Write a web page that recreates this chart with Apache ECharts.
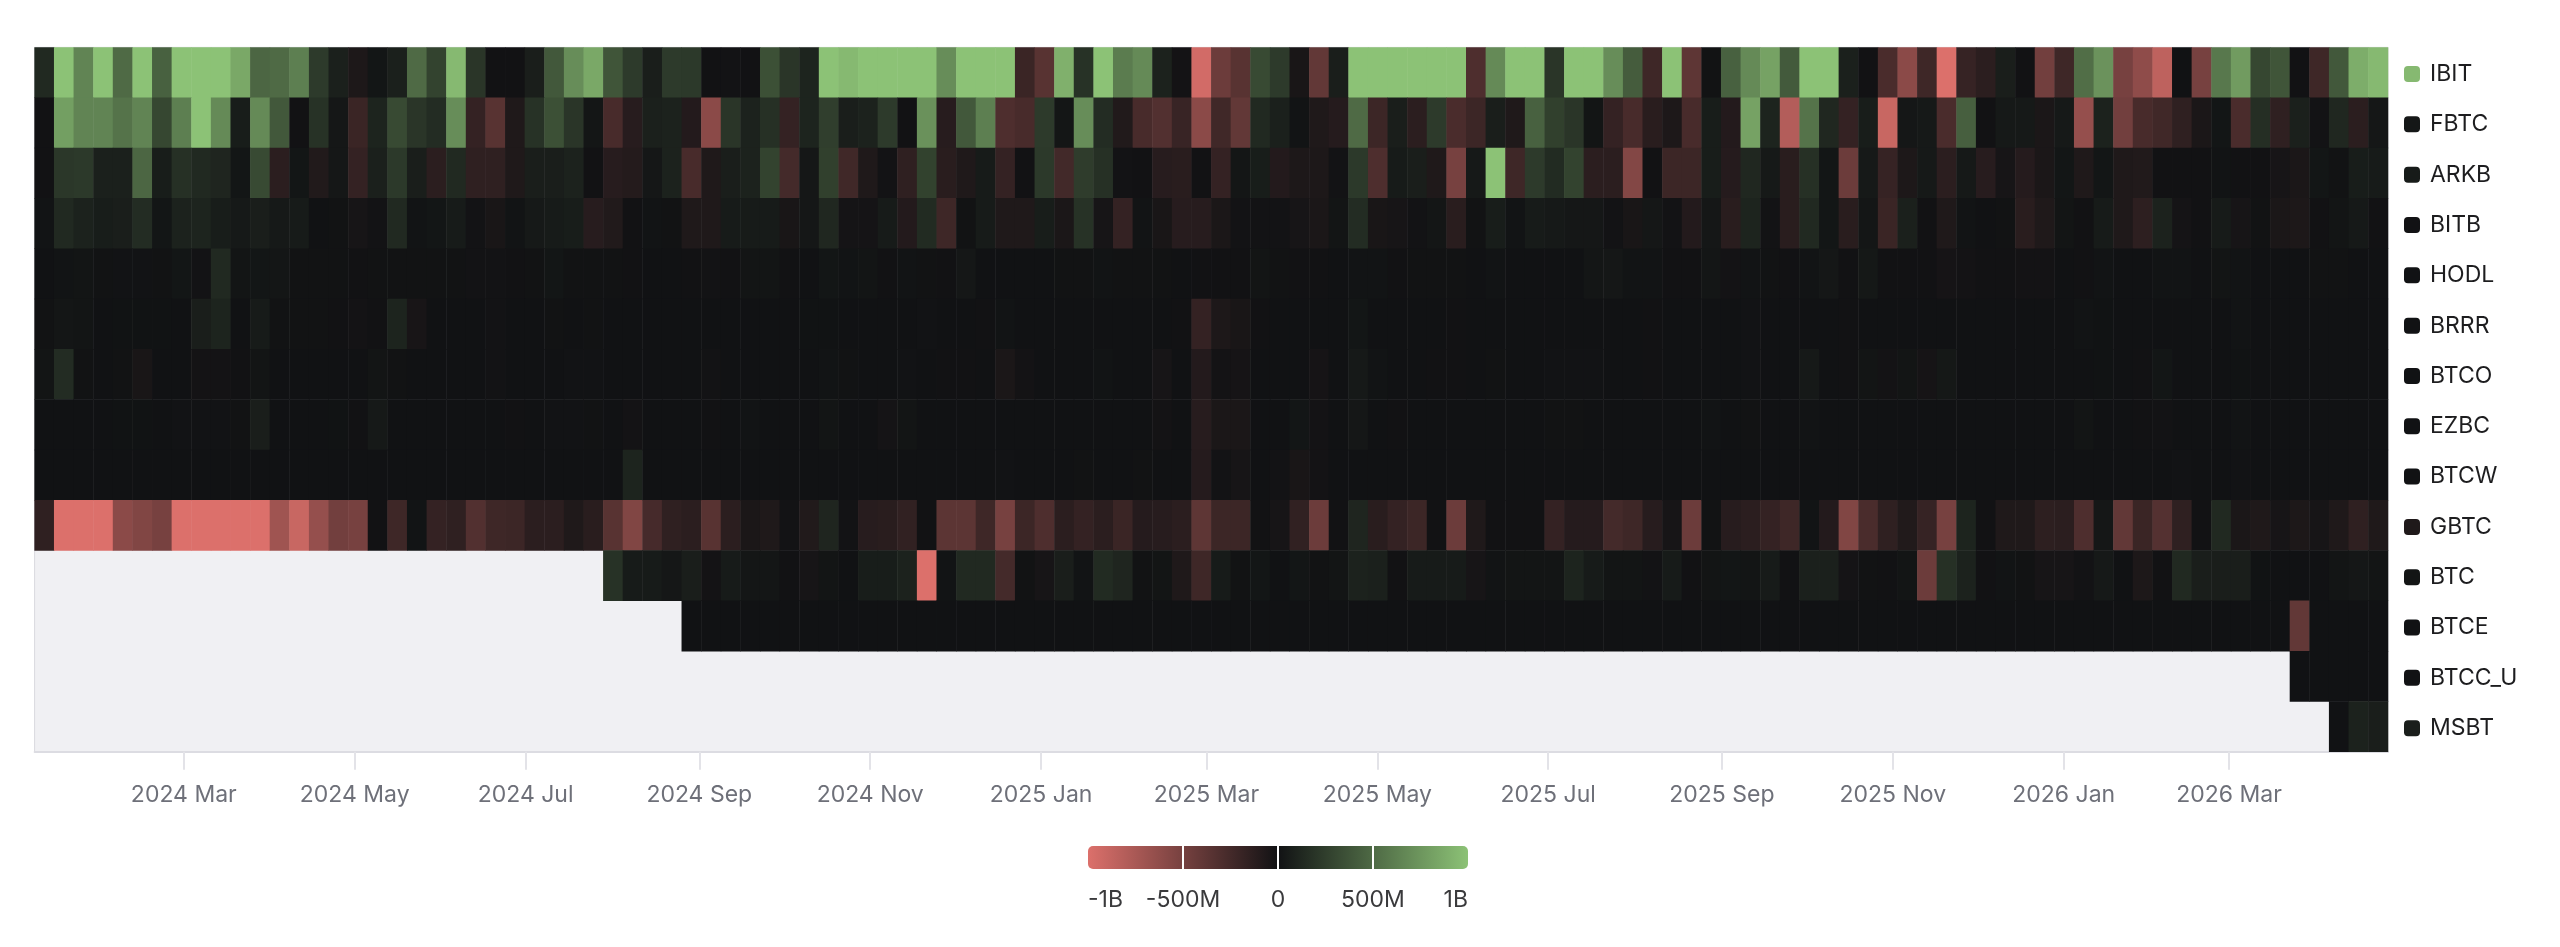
<!DOCTYPE html>
<html>
<head>
<meta charset="utf-8">
<title>Bitcoin ETF weekly flows</title>
<style>
  html, body { margin: 0; padding: 0; background: #fff; }
  #main { width: 2560px; height: 947px; }
</style>
<script src="https://cdn.jsdelivr.net/npm/echarts@6/dist/echarts.min.js"></script>
</head>
<body>
<div id="main"></div>
<script>
// weekly net flows, in millions of USD
var N = null;
var tickers = ["IBIT", "FBTC", "ARKB", "BITB", "HODL", "BRRR", "BTCO", "EZBC", "BTCW", "GBTC", "BTC", "BTCE", "BTCC_U", "MSBT"];
var tickMonths = ["2024-03-01", "2024-05-01", "2024-07-01", "2024-09-01", "2024-11-01", "2025-01-01", "2025-03-01", "2025-05-01", "2025-07-01", "2025-09-01", "2025-11-01", "2026-01-01", "2026-03-01"];
var legendTicks = ["-1B", "-500M", "0", "500M", "1B"];

var IBIT = [
  130, 1000, 650, 1000, 500, 1000, 450, 1000, 1000, 1000,
  850, 480, 500, 620, 230, 80, -60, 20, 80, 500,
  280, 950, 200, -5, -5, 70, 400, 700, 850, 380,
  230, 70, 230, 220, -5, -10, -5, 350, 200, 100,
  1000, 950, 1000, 1000, 1000, 1000, 700, 1000, 1000, 1000,
  -200, -350, 900, 180, 1000, 600, 680, 90, -15, -950,
  -450, -350, 320, 230, -40, -400, 70, 1000, 1000, 1000,
  1000, 1000, 1000, -300, 680, 1000, 1000, 200, 1000, 1000,
  700, 420, -220, 1000, -380, 5, 450, 680, 820, 410,
  1000, 1000, 80, -5, -280, -600, -220, -1000, -180, -130,
  70, -5, -480, -220, 520, 730, -500, -620, -850, 0,
  -500, 580, 780, 300, 380, -5, -220, 400, 880, 950
];
var FBTC = [
  -5, 800, 650, 650, 550, 650, 300, 620, 1000, 680,
  60, 680, 400, -5, 180, 30, -200, 100, 320, 200,
  150, 700, -170, -350, -70, 180, 350, 200, 25, -270,
  -110, 80, 90, -90, -600, 200, 90, 170, -170, 100,
  250, 70, 90, 230, -5, 720, -110, 400, 620, -300,
  -270, 230, 25, 700, 150, -80, -270, -320, -190, -600,
  -230, -400, 130, 80, 10, -70, -100, 500, -210, 70,
  -130, 230, -280, -210, 70, -70, 450, 260, 200, 15,
  -170, -270, -120, -60, -270, 60, -90, 820, 100, -800,
  550, 120, -170, 60, -900, 30, 40, -280, 440, -5,
  40, 40, -50, 40, -650, 90, -480, -270, -230, -150,
  -50, 20, -280, 160, -150, 80, -10, 120, -130, 30
];
var ARKB = [
  -5, 210, 220, 80, 80, 480, 60, 170, 130, 110,
  20, 320, -130, 20, -80, 30, -170, 80, 220, 70,
  -130, 130, -150, -150, -70, 70, 70, 90, -5, -110,
  -95, 30, 90, -270, -70, 70, 90, 280, -250, 30,
  260, -230, -70, -10, -150, 270, -120, -70, 50, -170,
  -5, 220, -240, 240, 170, -10, -5, -110, -120, -5,
  -170, 25, 60, -90, -60, -60, -10, 220, -300, 50,
  70, -70, -500, 40, 1000, -220, 230, 140, 280, -130,
  -130, -560, -5, -210, -210, 60, -100, 120, 40, -120,
  170, 20, -450, 40, -180, -60, 40, -130, 40, -110,
  -30, -100, -50, 20, -70, 20, -70, -80, -5, -5,
  -5, 10, -5, -5, -30, -50, 20, 5, 60, 50
];
var BITB = [
  10, 130, 90, 60, 70, 150, 20, 90, 100, 60,
  40, 70, 40, 50, 0, 5, -30, -10, 130, 10,
  20, 50, -10, -40, 10, 40, 50, 60, -110, -80,
  -5, 10, 5, -70, -70, 50, 50, 50, -40, 30,
  120, -20, -20, 50, -90, 140, -220, 5, 50, -70,
  -70, 60, -50, 180, -30, -170, 10, -40, -110, -110,
  -50, -10, -10, -10, -30, -50, 15, 150, -40, -30,
  -10, 25, -120, 5, 60, 10, 50, 40, 30, 30,
  -10, -40, 30, -10, -90, 30, -120, 100, -10, -120,
  130, 20, -120, 25, -200, 80, -5, -70, 10, 0,
  5, -120, -70, 15, -5, 50, -70, -140, 90, -20,
  -5, 50, -30, 5, -50, -60, -5, 15, 40, -5
];
var HODL = [
  0, 10, 15, 5, 8, 8, 5, 20, -10, 130,
  15, 20, 25, 5, 5, 5, -5, 5, 5, 5,
  5, 5, -10, -10, -5, 5, 20, 5, 5, 5,
  -5, 0, 0, -5, -10, -5, 15, 15, -5, 0,
  20, 10, 15, -5, 10, 5, -5, 30, 0, 0,
  0, 0, 5, 5, 10, 5, 5, 5, 0, -5,
  -5, -5, 15, 5, -5, -5, 0, 10, 10, -5,
  5, 5, 5, 0, 10, 0, 0, 0, 0, 25,
  30, 10, 10, -5, -5, 25, -15, 10, 5, -5,
  10, 30, -5, 35, -5, -5, -5, -25, -15, -5,
  -5, -15, -15, 0, -5, 10, 0, 0, 10, 10,
  0, 15, 10, 0, 0, 0, 5, 5, 0, 0
];
var BRRR = [
  5, 25, 15, 0, 3, 3, 3, -2, 70, 100,
  0, 50, 5, 5, 5, -5, -15, -5, 100, -35,
  0, 0, 0, -10, 0, 0, 5, 0, 5, 0,
  0, 0, 0, 0, 0, 0, 0, 0, 0, 3,
  3, 0, 0, 0, 0, 8, 0, 0, -3, 10,
  0, 0, 0, 0, 0, 0, 0, 0, -3, -170,
  -60, -40, -3, 0, 0, 0, 0, 20, 0, 0,
  0, 0, -5, 0, 0, 0, 0, 0, 0, 0,
  0, 0, -5, 0, 0, 0, 0, 8, 0, 0,
  0, 0, -5, 0, 0, 0, 0, 0, 0, 0,
  0, 0, 0, 0, 10, 3, 0, 0, 0, 0,
  0, 0, 10, 0, 0, 0, 0, 0, 0, 0
];
var BTCO = [
  15, 150, 5, 0, 5, -40, 0, 0, -15, -15,
  -5, 15, 0, 0, 0, 0, 0, 15, 5, 0,
  0, 0, 0, -10, 0, 0, 0, 8, 8, 0,
  0, 0, 0, 0, -8, 0, 0, 0, 0, 0,
  10, 5, 0, 0, 8, 0, -3, -3, 0, -50,
  -15, 0, 0, 0, 10, 0, 0, -30, 0, -90,
  -15, -25, 0, 0, 0, -25, 0, 40, 10, 0,
  0, -5, -5, 0, 5, 0, 0, 8, 8, 8,
  0, 0, -5, 0, 0, 0, 0, 8, 0, 0,
  40, 0, -5, 15, -15, 15, -25, 35, 0, 0,
  0, 0, 0, 0, 0, 3, 0, -5, 20, 0,
  0, 0, 3, 0, 0, 0, 0, 0, 0, 0
];
var EZBC = [
  0, 0, 0, 0, 3, 3, 2, 8, 8, 8,
  5, 70, 0, 0, 0, 3, -3, 40, 0, 0,
  0, 0, 0, 0, -5, 0, 8, 8, 5, 0,
  -15, 0, 0, 0, -5, 0, 10, 0, 0, 0,
  15, 0, 0, -20, 15, 0, 0, 0, 0, 0,
  0, 0, 0, 0, 0, 0, 0, -15, 0, -110,
  -50, -50, 0, 0, 20, -15, 0, 30, 0, -5,
  0, 0, 0, 0, 0, 0, 0, 5, 5, 0,
  0, 0, 0, 0, 0, 10, 0, 5, 0, 0,
  10, 0, 0, 0, 0, 0, 0, 0, 0, 0,
  0, 0, 0, 0, 15, 0, 0, -5, -8, 0,
  0, 0, 10, 0, 0, 0, 0, 0, 0, 0
];
var BTCW = [
  0, 0, 0, 0, 0, 0, 0, 0, 0, 0,
  0, 0, 0, 0, 0, 0, -2, 0, 0, 0,
  0, 0, 0, 0, 0, 0, 0, 0, 0, 0,
  100, 0, 0, 0, 0, 0, 0, 0, 0, 0,
  0, 0, 0, 0, 0, 0, 0, 0, 0, 8,
  0, 0, 0, 5, 0, 0, 5, 0, 0, -100,
  -8, -30, 0, -10, -40, -15, 0, 0, 0, 0,
  0, 0, 0, 0, 0, 0, 0, 0, 0, 0,
  0, 0, 0, 0, 0, 0, 0, 0, 0, 0,
  0, 0, 0, 0, 0, 0, 0, 0, 0, 0,
  0, 0, 0, 0, 0, 0, 0, 0, 0, 8,
  0, 0, 8, 0, 0, 0, 0, 0, 0, 0
];
var GBTC = [
  -150, -1000, -1000, -1000, -600, -550, -500, -1000, -1000, -1000,
  -1000, -1000, -700, -900, -650, -480, -500, -5, -220, 10,
  -170, -150, -320, -220, -210, -130, -130, -70, -120, -350,
  -550, -260, -150, -130, -350, -130, -50, -70, -10, -80,
  110, -10, -110, -120, -160, -5, -370, -370, -220, -500,
  -210, -300, -130, -170, -130, -200, -100, -110, -130, -380,
  -210, -210, -5, -30, -160, -450, -5, 110, -120, -170,
  -210, -5, -450, -70, -5, -5, -5, -170, -100, -100,
  -250, -220, -110, -30, -450, 5, -110, -130, -170, -220,
  10, -90, -550, -280, -150, -80, -180, -500, 100, -5,
  -70, -70, -140, -130, -300, 30, -400, -200, -330, -150,
  -5, 130, -50, -70, -30, -60, -30, -70, -150, -70
];
var BTC = [
  N, N, N, N, N, N, N, N, N, N,
  N, N, N, N, N, N, N, N, N, N,
  N, N, N, N, N, N, N, N, N, 180,
  50, 50, 30, 70, -15, 50, 25, 25, -5, -30,
  15, 0, 60, 60, 90, -1000, 10, 130, 130, -250,
  5, -30, 70, 10, 140, 110, 5, 15, -70, -220,
  50, 5, 20, 0, 20, 5, 15, 90, 80, -3,
  50, 50, 50, -30, 10, 15, 15, 15, 100, 50,
  15, 15, -10, 50, -5, 15, 20, 15, 50, -3,
  80, 80, -20, 5, -5, 15, -450, 170, 90, -3,
  10, 5, -30, -30, -8, 40, 0, -60, -5, 130,
  70, 70, 70, 3, 0, 0, 0, 15, 30, 15
];
var BTCE = [
  N, N, N, N, N, N, N, N, N, N,
  N, N, N, N, N, N, N, N, N, N,
  N, N, N, N, N, N, N, N, N, N,
  N, N, N, 0, 0, 0, 0, 0, 0, 0,
  0, 0, 0, 0, 0, 0, 0, 0, 0, 0,
  0, 0, 0, 0, 0, 0, 0, 0, 0, 0,
  0, 0, 0, 0, 0, 0, 0, 0, 0, 0,
  0, 0, 0, 0, 0, 0, 0, 0, 0, 0,
  0, 0, 0, 0, 0, 0, 0, 0, 0, 0,
  0, 0, 0, 0, 0, 0, 0, 0, 0, 0,
  0, 0, 0, 0, 0, 0, 0, 0, 0, 0,
  0, 0, 0, 0, 0, -400, 0, 0, 0, 0
];
var BTCC_U = [
  N, N, N, N, N, N, N, N, N, N,
  N, N, N, N, N, N, N, N, N, N,
  N, N, N, N, N, N, N, N, N, N,
  N, N, N, N, N, N, N, N, N, N,
  N, N, N, N, N, N, N, N, N, N,
  N, N, N, N, N, N, N, N, N, N,
  N, N, N, N, N, N, N, N, N, N,
  N, N, N, N, N, N, N, N, N, N,
  N, N, N, N, N, N, N, N, N, N,
  N, N, N, N, N, N, N, N, N, N,
  N, N, N, N, N, N, N, N, N, N,
  N, N, N, N, N, 0, 0, 0, 0, 0
];
var MSBT = [
  N, N, N, N, N, N, N, N, N, N,
  N, N, N, N, N, N, N, N, N, N,
  N, N, N, N, N, N, N, N, N, N,
  N, N, N, N, N, N, N, N, N, N,
  N, N, N, N, N, N, N, N, N, N,
  N, N, N, N, N, N, N, N, N, N,
  N, N, N, N, N, N, N, N, N, N,
  N, N, N, N, N, N, N, N, N, N,
  N, N, N, N, N, N, N, N, N, N,
  N, N, N, N, N, N, N, N, N, N,
  N, N, N, N, N, N, N, N, N, N,
  N, N, N, N, N, N, N, 0, 90, 70
];
var rows = [IBIT, FBTC, ARKB, BITB, HODL, BRRR, BTCO, EZBC, BTCW, GBTC, BTC, BTCE, BTCC_U, MSBT];

var RED = "#dc706b", ZERO = "#111214", GREEN = "#8cc276";
var FONT = "Inter";

var weeks = [];
var heatData = [];
for (var w = 0; w < IBIT.length; w++) weeks.push(w);
rows.forEach(function (row, y) {
  row.forEach(function (v, x) {
    if (v !== null) heatData.push([x, y, v]);
  });
});

// the little square next to each ticker has the colour of its latest week
var labelRich = {
  t: { color: "#1d1d1f", fontFamily: FONT, fontSize: 23, padding: [0, 0, 0, 10] }
};
rows.forEach(function (row, i) {
  var last = row[row.length - 1];
  labelRich["s" + i] = {
    width: 16,
    height: 16,
    borderRadius: 4,
    backgroundColor: echarts.color.lerp((last + 1000) / 2000, [RED, ZERO, GREEN])
  };
});

var tickStamps = tickMonths.map(function (d) { return +new Date(d + "T00:00:00Z"); });
var monthNames = ["Jan", "Feb", "Mar", "Apr", "May", "Jun", "Jul", "Aug", "Sep", "Oct", "Nov", "Dec"];

var myEchart = echarts.init(document.getElementById("main"));
var option = {
  animation: false,
  backgroundColor: "#fff",
  grid: {
    show: true,
    left: 34.6,
    top: 47.4,
    width: 2353.4,
    height: 704.4,
    backgroundColor: "#f0f0f3",
    borderColor: "#d9d9de",
    borderWidth: 1
  },
  xAxis: [
    {
      type: "category",
      data: weeks,
      show: false
    },
    {
      // dates as plain timestamps, so month ticks land between the weekly columns
      type: "value",
      position: "bottom",
      min: Date.UTC(2024, 0, 7, 18),
      max: Date.UTC(2026, 3, 26, 18),
      splitLine: { show: false },
      axisLine: { show: true, onZero: false, lineStyle: { color: "#dcdce2", width: 2 } },
      axisTick: {
        show: true,
        length: 18,
        lineStyle: { color: "#e3e3e8", width: 2 },
        customValues: tickStamps
      },
      axisLabel: {
        color: "#6e7079",
        fontFamily: FONT,
        fontSize: 23,
        margin: 32,
        customValues: tickStamps,
        formatter: function (v) {
          var d = new Date(v);
          return d.getUTCFullYear() + " " + monthNames[d.getUTCMonth()];
        }
      }
    }
  ],
  yAxis: {
    type: "category",
    data: tickers,
    inverse: true,
    position: "right",
    axisLine: { show: false },
    axisTick: { show: false },
    splitLine: { show: false },
    axisLabel: {
      margin: 16,
      align: "left",
      padding: [3, 0, 0, 0],
      formatter: function (name) {
        return "{s" + tickers.indexOf(name) + "|}{t|" + name + "}";
      },
      rich: labelRich
    }
  },
  visualMap: {
    show: false,
    type: "continuous",
    min: -1000,
    max: 1000,
    seriesIndex: 0,
    inRange: { color: [RED, ZERO, GREEN] }
  },
  series: [
    {
      type: "heatmap",
      xAxisIndex: 0,
      yAxisIndex: 0,
      progressive: 0,
      data: heatData,
      itemStyle: { borderWidth: 0 },
      emphasis: { disabled: true }
    }
  ],
  graphic: [
    {
      type: "rect",
      shape: { x: 1088, y: 846, width: 380, height: 23, r: 5 },
      style: {
        fill: new echarts.graphic.LinearGradient(0, 0, 1, 0, [
          { offset: 0, color: RED },
          { offset: 0.5, color: ZERO },
          { offset: 1, color: GREEN }
        ])
      }
    },
    { type: "rect", shape: { x: 1182, y: 846, width: 2, height: 23 }, style: { fill: "#fff" } },
    { type: "rect", shape: { x: 1277, y: 846, width: 2, height: 23 }, style: { fill: "#fff" } },
    { type: "rect", shape: { x: 1372, y: 846, width: 2, height: 23 }, style: { fill: "#fff" } },
    legendText(legendTicks[0], 1088, "left"),
    legendText(legendTicks[1], 1183, "center"),
    legendText(legendTicks[2], 1278, "center"),
    legendText(legendTicks[3], 1373, "center"),
    legendText(legendTicks[4], 1468, "right")
  ]
};

function legendText(text, x, align) {
  return {
    type: "text",
    x: x,
    y: 900,
    style: {
      text: text,
      fill: "#3a3a3c",
      font: "23px " + FONT,
      textAlign: align,
      textVerticalAlign: "middle"
    }
  };
}

option && myEchart.setOption(option);
</script>
</body>
</html>
